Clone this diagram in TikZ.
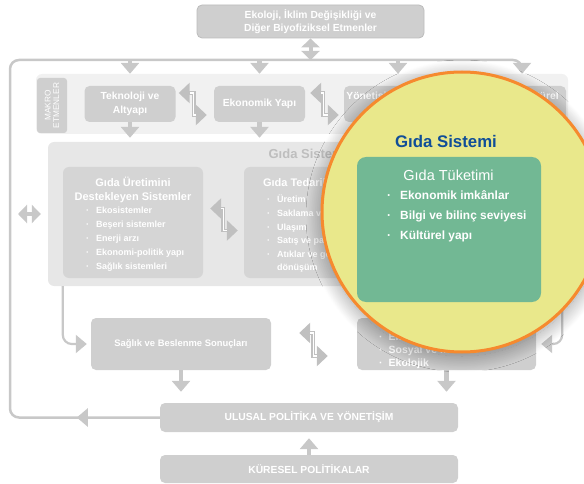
\documentclass[tikz,border=0pt]{standalone}
\usepackage{fontspec}
\setmainfont{Liberation Sans}
\usetikzlibrary{arrows.meta, positioning, calc, shadows.blur, decorations.markings}
\definecolor{boxgray}{RGB}{207,207,207}
\definecolor{edgegray}{RGB}{188,188,188}
\definecolor{makrogray}{RGB}{241,241,241}
\definecolor{panelgray}{RGB}{231,231,231}
\definecolor{innergray}{RGB}{213,213,213}
\definecolor{linegray}{RGB}{200,200,200}
\definecolor{stepgray}{RGB}{192,192,192}
\definecolor{titlegray}{RGB}{190,190,190}
\definecolor{lensyellow}{RGB}{233,232,139}
\definecolor{lensorange}{RGB}{246,138,46}
\definecolor{tuketgreen}{RGB}{114,184,148}
\definecolor{sistemblue}{RGB}{16,78,152}

\begin{document}
\begin{tikzpicture}[x=1pt,y=-1pt,
  gbox/.style={fill=boxgray,rounded corners=5pt,text=white,align=center,inner sep=0pt,
    font=\fontsize{10.3}{14}\selectfont\bfseries},
  panel/.style={fill=#1,rounded corners=6pt,inner sep=0pt},
  ibox/.style={fill=innergray,rounded corners=6pt,inner sep=0pt,
    minimum width=140pt,minimum height=111pt},
  ititle/.style={text=white,align=center,inner sep=0pt,font=\fontsize{11}{14}\selectfont\bfseries},
  bitem/.style={text=white,inner sep=0pt,anchor=base west,font=\fontsize{9}{14}\selectfont\bfseries},
  arr/.style={draw=linegray,line width=4.5pt,-{Triangle[width=18pt,length=11pt]}},
  lne/.style={draw=linegray,line width=2.5pt,rounded corners=9pt},
  steparr/.style={draw=stepgray,line width=3.6pt,
    {Triangle[width=20pt,length=11pt]}-{Triangle[width=20pt,length=11pt]},
    postaction={draw=white,line width=1.3pt,-,shorten <=11pt,shorten >=11pt}},
  dblarr/.style={draw=linegray,line width=4pt,
    {Triangle[width=18pt,length=9pt]}-{Triangle[width=18pt,length=9pt]}}]
  \useasboundingbox (0,0) rectangle (584,484);

  % top factor and the big feedback loop
  \node[gbox,draw=edgegray,line width=0.8pt,minimum width=227pt,minimum height=33pt,
    font=\fontsize{10.3}{13}\selectfont\bfseries] (eko) at (310.5,21.5)
    {Ekoloji, İklim Değişikliği ve\\Diğer Biyofiziksel Etmenler};
  \coordinate (toprun) at (0,60);
  \coordinate (loopL) at (10,0);

  % macro factors
  \node[panel=makrogray,minimum width=532pt,minimum height=60pt] (makro) at (302,104) {};
  \node[gbox,minimum width=30pt,minimum height=55pt,rounded corners=3pt] (mlabel) at (52,105.5) {};
  \node[rotate=90,text=white,align=center,inner sep=0pt,
    font=\fontsize{8.3}{8.5}\selectfont] at (mlabel) {MAKRO\\ETMENLER};
  \node[gbox,minimum width=91pt,minimum height=36pt] (tek) at (130,104) {Teknoloji ve\\Altyapı};
  \node[gbox,minimum width=91pt,minimum height=36pt] (ekon) at (259.5,104) {Ekonomik Yapı};
  \node[gbox,minimum width=108pt,minimum height=36pt] (yon) at (398,104) {Yönetişim ve Politika\\Yapısı};
  \node[gbox,minimum width=88pt,minimum height=36pt] (sosy) at (522,104) {Sosyo-Kültürel\\Yapı};

  % food system
  \node[panel=panelgray,minimum width=520pt,minimum height=144pt] (gsys) at (308,214) {};
  \node[text=titlegray,inner sep=0pt,font=\fontsize{13}{14}\selectfont\bfseries,
    below=7pt of gsys.north] (gsysT) {Gıda Sistemi};
  \node[ibox] (uret) at (133,222.5) {};
  \node[ibox] (tedar) at (314,222.5) {};
  \node[ibox] (tuket) at (495,222.5) {};
  \node[ititle] (uretT) at (133,190) {Gıda Üretimini\\Destekleyen Sistemler};
  \foreach \t [count=\i] in {Ekosistemler,Beşeri sistemler,Enerji arzı,Ekonomi-politik yapı,Sağlık sistemleri}
    \node[bitem] at (86,199.5+14*\i) {\textperiodcentered\hspace{7pt}\t};
  \node[ititle] (tedarT) at (314,183) {Gıda Tedarik Zinciri};
  \foreach \t [count=\i] in {Üretim,Saklama ve dağıtım,Ulaşım,Satış ve pazarlama,Atıklar ve geri}
    \node[bitem] at (267,189.5+13.5*\i) {\textperiodcentered\hspace{7pt}\t};
  \node[bitem] at (277,270.5) {dönüşüm};

  % outcomes and policy
  \node[gbox,minimum width=180pt,minimum height=52pt,font=\fontsize{9.4}{14}\selectfont\bfseries]
    (sag) at (181,344) {Sağlık ve Beslenme Sonuçları};
  \node[gbox,minimum width=179pt,minimum height=52pt] (sonuc) at (446.5,344) {};
  \foreach \t [count=\i] in {Ekonomik,Sosyal ve kültürel,Ekolojik}
    \node[bitem,font=\fontsize{10.5}{14}\selectfont\bfseries] at (379,327+13*\i)
      {\textperiodcentered\hspace{6pt}\t};
  \node[gbox,minimum width=298pt,minimum height=29pt] (nat) at (309,417.5) {ULUSAL POLİTİKA VE YÖNETİŞİM};
  \node[gbox,minimum width=298pt,minimum height=28pt] (kur) at (309,469) {KÜRESEL POLİTİKALAR};

  % connectors
  \draw[lne,-{Triangle[width=18pt,length=11pt]},
    postaction={decorate,decoration={markings,
      mark=at position 83pt with {\arrow{Triangle[width=18pt,length=11pt]}}}}]
    (nat.west) -| (loopL |- toprun) -| (sosy.north |- makro.north);
  \draw[dblarr] (eko.south) -- (eko.south |- toprun);
  \foreach \n in {tek,ekon,yon}
    \draw[arr] (\n.north |- toprun) -- (\n.north |- makro.north);
  \foreach \n in {tek,ekon,yon,sosy}
    \draw[arr] (\n.south) -- ([yshift=4pt]\n.south |- gsys.north);
  \draw[steparr] ([xshift=3pt,yshift=11pt]tek.east) -- ++(15,0) |- ([xshift=-7pt,yshift=-11pt]ekon.west);
  \draw[steparr] ([xshift=5pt,yshift=11pt]ekon.east) -- ++(13,0) |- ([xshift=-5pt,yshift=-11pt]yon.west);
  \draw[steparr] ([xshift=7pt,yshift=14pt]uret.east) -- ++(13,0) |- ([xshift=-6pt,yshift=-8pt]tedar.west);
  \draw[steparr] ([xshift=28pt,yshift=11pt]sag.east) -- ++(14,0) |- ([xshift=-29pt,yshift=-12pt]sonuc.west);
  \draw[dblarr] (loopL |- gsys.west) ++(8,0) -- ([xshift=-7pt]gsys.west);
  \draw[lne,line width=2.2pt,shorten >=4pt,-{Triangle[width=18pt,length=11pt]}]
    (uret.west |- gsys.south) |- (sag.west);
  \draw[lne,line width=2.2pt,shorten >=5pt,-{Triangle[width=18pt,length=11pt]}]
    ([xshift=-6pt]gsys.south east) |- (sonuc.east);
  \draw[arr] (sag.south) -- ([yshift=11pt]sag.south |- nat.north);
  \draw[arr] (sonuc.south) -- ([yshift=11pt]sonuc.south |- nat.north);
  \draw[arr] (kur.north) -- ([yshift=-6pt]kur.north |- nat.south);

  % magnified consumption
  \node[circle,fill=lensyellow,draw=lensorange,line width=3pt,minimum size=280pt,inner sep=0pt,
    blur shadow={shadow xshift=0pt,shadow yshift=-4pt,shadow blur radius=16pt,
      shadow blur steps=30,shadow opacity=40}]
    (lens) at (462,212) {};
  \node[text=sistemblue,inner sep=0pt,anchor=base,font=\fontsize{16.8}{18}\selectfont\bfseries]
    (lensT) at (446,148) {Gıda Sistemi};
  \node[fill=tuketgreen,rounded corners=9pt,minimum width=184pt,minimum height=145pt,inner sep=0pt]
    (tuketZ) at (449,229.5) {};
  \node[text=white,inner sep=0pt,anchor=base,font=\fontsize{14.5}{16}\selectfont]
    (tuketT) at (448.5,181) {Gıda Tüketimi};
  \foreach \t [count=\i] in {Ekonomik imkânlar,Bilgi ve bilinç seviyesi,Kültürel yapı}
    \node[bitem,font=\fontsize{11.9}{14}\selectfont\bfseries] at (387,180.5+19.5*\i)
      {\textperiodcentered\hspace{9pt}\t};
\end{tikzpicture}
\end{document}
